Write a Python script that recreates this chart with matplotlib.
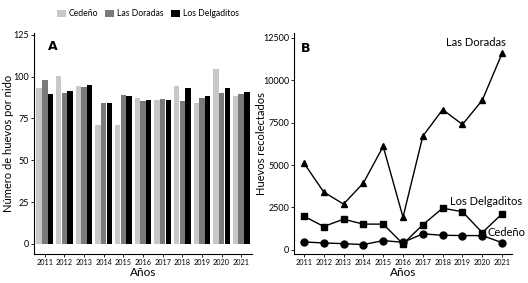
import numpy as np
import matplotlib.pyplot as plt

plt.rcParams['font.family'] = ['Lato', 'DejaVu Sans']

# Data
years = [2011, 2012, 2013, 2014, 2015, 2016, 2017, 2018, 2019, 2020, 2021]
sites = ['Cedeño', 'Las Doradas', 'Los Delgaditos']
colors = ['#c8c8c8', '#7a7a7a', '#000000']

# Panel A: eggs per nest
nest_cedeno = [93.3, 100.6, 94.3, 70.9, 71.3, 87.2, 86.0, 94.1, 84.3, 104.3, 88.4]
nest_doradas = [98.0, 90.4, 93.7, 83.9, 89.2, 85.2, 86.8, 85.4, 87.2, 90.0, 89.6]
nest_delgaditos = [89.4, 91.1, 94.7, 84.4, 88.4, 85.8, 85.8, 92.9, 88.6, 93.3, 90.9]

# Panel B: eggs collected
col_cedeno = [470, 410, 370, 315, 550, 450, 945, 865, 845, 845, 430]
col_doradas = [5120, 3410, 2700, 3940, 6100, 1930, 6700, 8270, 7390, 8820, 11580]
col_delgaditos = [1990, 1380, 1810, 1520, 1520, 355, 1480, 2460, 2250, 1020, 2130]

fig = plt.figure(figsize=(5.28, 2.83), dpi=100)
axA = fig.add_axes([34 / 528, 1 - 254 / 283, 218 / 528, 221 / 283])
axB = fig.add_axes([294 / 528, 1 - 254 / 283, 218 / 528, 221 / 283])

# ---- Panel A
x = np.arange(len(years))
w = 0.29
for i, (vals, c, lab) in enumerate(zip([nest_cedeno, nest_doradas, nest_delgaditos], colors, sites)):
    axA.bar(x + (i - 1) * w, vals, width=w * 0.95, color=c, label=lab)
axA.set_xlim(-0.55, len(years) - 0.45)
axA.set_ylim(-6, 126)
axA.set_yticks([0, 25, 50, 75, 100, 125])
axA.set_xticks(x)
axA.set_xticklabels(years)
axA.set_ylabel('Número de huevos por nido', fontsize=8)
axA.yaxis.set_label_coords(-0.092, 0.5)
axA.set_xlabel('Años', fontsize=8.5)
axA.text(0.15, 122, 'A', fontsize=9, fontweight='bold', va='top', family='DejaVu Sans')

# ---- Panel B
axB.plot(years, col_doradas, color='black', marker='^', markersize=5, linewidth=1)
axB.plot(years, col_delgaditos, color='black', marker='s', markersize=5, linewidth=1)
axB.plot(years, col_cedeno, color='black', marker='o', markersize=5, linewidth=1)
axB.set_xlim(2010.5, 2021.5)
axB.set_ylim(-240, 12780)
axB.set_yticks([0, 2500, 5000, 7500, 10000, 12500])
axB.set_xticks(years)
axB.set_ylabel('Huevos recolectados', fontsize=8)
axB.yaxis.set_label_coords(-0.124, 0.5)
axB.set_xlabel('Años', fontsize=8.5)
axB.text(2010.85, 12250, 'B', fontsize=9, fontweight='bold', va='top', family='DejaVu Sans')
axB.text(2019.7, 12230, 'Las Doradas', fontsize=8, ha='center', va='center')
axB.text(2020.2, 2850, 'Los Delgaditos', fontsize=8, ha='center', va='center', clip_on=False)
axB.text(2020.25, 1000, 'Cedeño', fontsize=8, ha='left', va='center', clip_on=False)

for ax in (axA, axB):
    ax.xaxis.set_label_coords(0.5, -0.058)
    for s in ('top', 'right'):
        ax.spines[s].set_visible(False)
    ax.spines['left'].set_linewidth(0.8)
    ax.spines['bottom'].set_linewidth(0.8)
    ax.tick_params(axis='both', length=2, width=0.6, pad=1.5)
    ax.tick_params(axis='x', labelsize=5.2)
    ax.tick_params(axis='y', labelsize=6.5)

fig.legend(loc='center', bbox_to_anchor=(148 / 528, 1 - 14 / 283), ncol=3, frameon=False,
           fontsize=6.2, handlelength=1.0, handleheight=1.0, handletextpad=0.4, columnspacing=0.8)

fig.savefig('out.png', dpi=100)
